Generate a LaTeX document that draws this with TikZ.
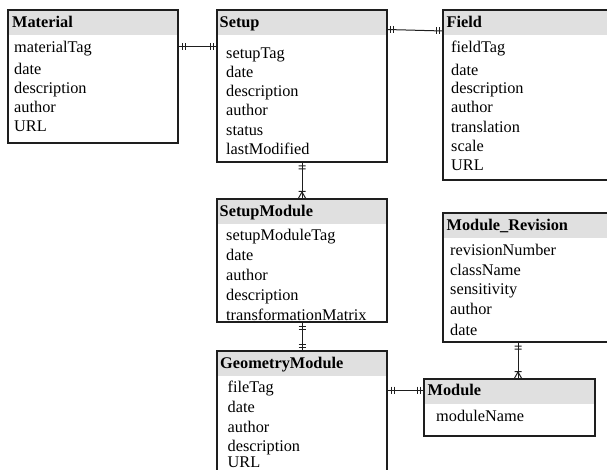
\documentclass[tikz,border=0pt]{standalone}
\usepackage{fontspec}
\setmainfont{Liberation Serif}
\usetikzlibrary{calc}
\definecolor{headgray}{RGB}{224,224,224}
\definecolor{edgecol}{RGB}{30,30,30}
\begin{document}
\begin{tikzpicture}[x=1pt,y=-1pt,
  ent/.style={draw=edgecol, line width=1.1pt, fill=white, rectangle, anchor=north west,
    inner sep=0pt, outer sep=0pt,
    path picture={\fill[headgray] (path picture bounding box.north west) rectangle ([yshift=-25pt]path picture bounding box.north east);}},
  ttl/.style={anchor=base west, font=\fontsize{16.3}{18}\selectfont\bfseries, inner sep=0pt},
  att/.style={anchor=base west, font=\fontsize{16.3}{18}\selectfont, inner sep=0pt},
  con/.style={draw=edgecol, line width=1pt},
]
\path[use as bounding box, clip] (0,0) rectangle (607,470);
\fill[white] (0,0) rectangle (607,470);

% entities
\node[ent, minimum width=170pt, minimum height=133pt] (material) at (8,10) {};
\node[ent, minimum width=170pt, minimum height=152pt] (setup) at (217,10) {};
\node[ent, minimum width=200pt, minimum height=170pt] (field) at (443,10) {};
\node[ent, minimum width=170pt, minimum height=123pt] (setupmodule) at (217,199) {};
\node[ent, minimum width=200pt, minimum height=129pt] (modrev) at (443,213) {};
\node[ent, minimum width=170pt, minimum height=150pt] (geom) at (217,351) {};
\node[ent, minimum width=171pt, minimum height=57pt] (module) at (424,379) {};

% titles
\node[ttl] (material-t) at (12,28) {Material};
\node[ttl] (setup-t) at (219.5,28) {Setup};
\node[ttl] (field-t) at (446.5,28) {Field};
\node[ttl] (setupmodule-t) at (219.5,217) {SetupModule};
\node[ttl] (modrev-t) at (446.5,231) {Module\_Revision};
\node[ttl] (geom-t) at (220,368) {GeometryModule};
\node[ttl] (module-t) at (427.5,395) {Module};

% attributes
\foreach \t/\y [count=\i] in {materialTag/53, date/75, description/94, author/113, URL/132}
  \node[att] (material-a\i) at (14,\y) {\t};
\foreach \t/\y [count=\i] in {setupTag/59, date/78, description/97, author/116, status/136, lastModified/155}
  \node[att] (setup-a\i) at (226,\y) {\t};
\foreach \t/\y [count=\i] in {fieldTag/53, date/75.5, description/94, author/113, translation/132.5, scale/151.5, URL/171}
  \node[att] (field-a\i) at (451,\y) {\t};
\foreach \t/\y [count=\i] in {setupModuleTag/240.5, date/260, author/280, description/300.5, transformationMatrix/320.5}
  \node[att] (setupmodule-a\i) at (226,\y) {\t};
\foreach \t/\y [count=\i] in {revisionNumber/255, className/275.5, sensitivity/294.5, author/314, date/335}
  \node[att] (modrev-a\i) at (450,\y) {\t};
\foreach \t/\y [count=\i] in {fileTag/392, date/412.5, author/432.5, description/451, URL/467.5}
  \node[att] (geom-a\i) at (227.5,\y) {\t};
\node[att] (module-a1) at (436,421) {moduleName};

% connector Material -- Setup
\coordinate (c1a) at ($(material.north east)+(0,37)$);
\coordinate (c1b) at ($(setup.north west)+(0,37)$);
\draw[con] (c1a) -- (c1b);
\draw[con] ($(c1a)+(4,-3.5)$) -- ++(0,7) ($(c1a)+(7,-3.5)$) -- ++(0,7)
           ($(c1b)+(-4,-3.5)$) -- ++(0,7) ($(c1b)+(-7,-3.5)$) -- ++(0,7);

% connector Setup -- Field
\coordinate (c2a) at ($(setup.north east)+(0,19.5)$);
\coordinate (c2b) at ($(field.north west)+(0,21)$);
\draw[con] (c2a) -- (c2b);
\draw[con] ($(c2a)+(3.5,-3.5)$) -- ++(0,7) ($(c2a)+(6.5,-3.5)$) -- ++(0,7)
           ($(c2b)+(-3.5,-3.5)$) -- ++(0,7) ($(c2b)+(-6.5,-3.5)$) -- ++(0,7);

% connector Setup -- SetupModule
\draw[con] (setup.south) -- (setupmodule.north);
\draw[con] ($(setup.south)+(-3.5,4)$) -- ++(7,0) ($(setup.south)+(-3.5,7)$) -- ++(7,0)
           ($(setupmodule.north)+(-4,0)$) -- ($(setupmodule.north)+(0,-7)$) -- ($(setupmodule.north)+(4,0)$)
           ($(setupmodule.north)+(-3.5,-7.5)$) -- ++(7,0);

% connector SetupModule -- GeometryModule
\draw[con] (setupmodule.south) -- (geom.north);
\draw[con] ($(setupmodule.south)+(-3.5,4)$) -- ++(7,0) ($(setupmodule.south)+(-3.5,7)$) -- ++(7,0)
           ($(geom.north)+(-3.5,-4)$) -- ++(7,0) ($(geom.north)+(-3.5,-7)$) -- ++(7,0);

% connector GeometryModule -- Module
\coordinate (c5a) at ($(geom.north east)+(0,39)$);
\coordinate (c5b) at ($(module.north west)+(0,11)$);
\draw[con] (c5a) -- (c5b);
\draw[con] ($(c5a)+(4,-3.5)$) -- ++(0,7) ($(c5a)+(7,-3.5)$) -- ++(0,7)
           ($(c5b)+(-4,-3.5)$) -- ++(0,7) ($(c5b)+(-7,-3.5)$) -- ++(0,7);

% connector Module_Revision -- Module
\coordinate (c6a) at ($(modrev.south west)+(75,0)$);
\coordinate (c6b) at ($(module.north west)+(94,0)$);
\draw[con] (c6a) -- (c6b);
\draw[con] ($(c6a)+(-3.5,4)$) -- ++(7,0) ($(c6a)+(-3.5,7)$) -- ++(7,0)
           ($(c6b)+(-4,0)$) -- ($(c6b)+(0,-7)$) -- ($(c6b)+(4,0)$)
           ($(c6b)+(-3.5,-7.5)$) -- ++(7,0);
\end{tikzpicture}
\end{document}
